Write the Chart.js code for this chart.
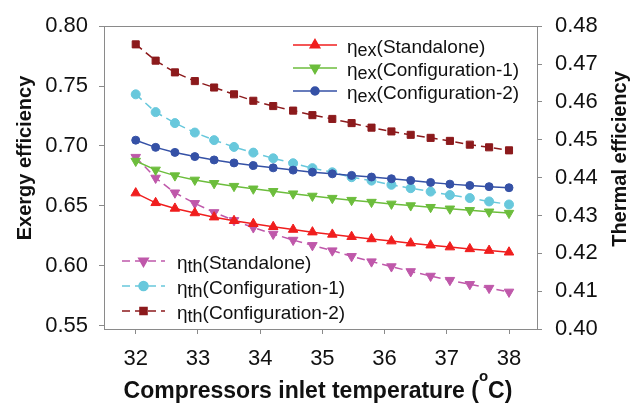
<!DOCTYPE html>
<html>
<head>
<meta charset="utf-8">
<script src="https://cdn.jsdelivr.net/npm/chart.js"></script>
<style>
  html, body { margin: 0; padding: 0; background: #fff; }
  canvas { display: block; }
</style>
</head>
<body>
<canvas id="efficiency-chart" width="641" height="403"></canvas>
<script>
// compressor inlet temperature, degC
const temps = [32.00, 32.32, 32.63, 32.95, 33.26, 33.58, 33.89, 34.21, 34.53, 34.84,
               35.16, 35.47, 35.79, 36.11, 36.42, 36.74, 37.05, 37.37, 37.68, 38.00]

// exergy efficiency (left axis)
const exStandalone = [0.6606, 0.6525, 0.6478, 0.6440, 0.6405, 0.6375, 0.6350, 0.6325, 0.6302, 0.6280,
                      0.6261, 0.6242, 0.6223, 0.6205, 0.6188, 0.6171, 0.6155, 0.6140, 0.6126, 0.6112]
const exConfig1 = [0.6874, 0.6800, 0.6752, 0.6716, 0.6688, 0.6664, 0.6642, 0.6621, 0.6601, 0.6582,
                   0.6564, 0.6547, 0.6531, 0.6516, 0.6502, 0.6488, 0.6475, 0.6462, 0.6450, 0.6439]
const exConfig2 = [0.7048, 0.6988, 0.6946, 0.6911, 0.6883, 0.6858, 0.6836, 0.6817, 0.6798, 0.6781,
                   0.6767, 0.6754, 0.6740, 0.6726, 0.6712, 0.6695, 0.6681, 0.6670, 0.6660, 0.6651]

// thermal efficiency (right axis)
const thStandalone = [0.4454, 0.4399, 0.4360, 0.4332, 0.4308, 0.4287, 0.4268, 0.4251, 0.4235, 0.4221,
                      0.4207, 0.4192, 0.4178, 0.4165, 0.4152, 0.4140, 0.4129, 0.4118, 0.4108, 0.4098]
const thConfig1 = [0.4620, 0.4573, 0.4544, 0.4519, 0.4499, 0.4481, 0.4466, 0.4451, 0.4438, 0.4425,
                   0.4414, 0.4401, 0.4392, 0.4381, 0.4372, 0.4363, 0.4354, 0.4346, 0.4337, 0.4329]
const thConfig2 = [0.4752, 0.4709, 0.4678, 0.4655, 0.4638, 0.4620, 0.4603, 0.4589, 0.4577, 0.4565,
                   0.4555, 0.4544, 0.4532, 0.4522, 0.4513, 0.4505, 0.4497, 0.4487, 0.4480, 0.4472]

const xTicks = [32, 33, 34, 35, 36, 37, 38]
const leftTicks = [0.55, 0.60, 0.65, 0.70, 0.75, 0.80]
const rightTicks = [0.40, 0.41, 0.42, 0.43, 0.44, 0.45, 0.46, 0.47, 0.48]

const FONT = "'Liberation Sans', Arial, sans-serif"
const frameColor = '#8a8a8a'

const toPoints = vals => vals.map((v, i) => ({ x: temps[i], y: v }))

function series(sub, tail, vals, color, style, opts) {
  return Object.assign({
    sub, tail,
    label: 'η' + sub + tail,
    data: toPoints(vals),
    borderColor: color,
    backgroundColor: color,
    pointBackgroundColor: color,
    pointBorderColor: color,
    borderWidth: 1.5,
    pointStyle: style,
    pointRadius: 4,
    pointBorderWidth: 1,
    tension: 0
  }, opts)
}

const datasets = [
  series('ex', '(Standalone)', exStandalone, '#f01e1e', 'triangle', { yAxisID: 'yEx', pointRadius: 5.5 }),
  series('ex', '(Configuration-1)', exConfig1, '#6cbd3c', 'triangle', { yAxisID: 'yEx', pointRadius: 5.5, pointRotation: 180 }),
  series('ex', '(Configuration-2)', exConfig2, '#3551a6', 'circle', { yAxisID: 'yEx' }),
  series('th', '(Standalone)', thStandalone, '#bf58aa', 'triangle', { yAxisID: 'yTh', pointRadius: 5.5, pointRotation: 180, borderDash: [8, 5] }),
  series('th', '(Configuration-1)', thConfig1, '#68c8dc', 'circle', { yAxisID: 'yTh', pointRadius: 4.5, borderDash: [8, 5] }),
  series('th', '(Configuration-2)', thConfig2, '#8c1a1c', 'rect', { yAxisID: 'yTh', pointRadius: 5, borderDash: [8, 5] })
]

// legend blocks: dataset indexes, sample line span, first row y, row step, text x
const keyBlocks = [
  { items: [0, 1, 2], x0: 293, x1: 337, y: 45, step: 23, textX: 347 },
  { items: [3, 4, 5], x0: 122, x1: 165, y: 261, step: 25, textX: 177 }
]

function drawKey(ctx, ds, block, y) {
  ctx.save()
  ctx.strokeStyle = ds.borderColor
  ctx.lineWidth = ds.borderWidth
  ctx.setLineDash(ds.borderDash || [])
  ctx.beginPath()
  ctx.moveTo(block.x0, y)
  ctx.lineTo(block.x1, y)
  ctx.stroke()
  ctx.setLineDash([])
  ctx.fillStyle = ds.pointBackgroundColor
  ctx.strokeStyle = ds.pointBorderColor
  Chart.helpers.drawPoint(ctx, {
    pointStyle: ds.pointStyle,
    rotation: ds.pointRotation || 0,
    radius: ds.pointRadius,
    borderWidth: 1
  }, (block.x0 + block.x1) / 2, y)

  // η with subscript, then the case name
  const base = y + 8
  let x = block.textX
  ctx.fillStyle = '#111'
  ctx.textBaseline = 'alphabetic'
  ctx.textAlign = 'left'
  ctx.font = `19px ${FONT}`
  ctx.fillText('η', x, base)
  x += ctx.measureText('η').width
  ctx.font = `18px ${FONT}`
  ctx.fillText(ds.sub, x, base + 3)
  x += ctx.measureText(ds.sub).width
  ctx.font = `19px ${FONT}`
  ctx.fillText(ds.tail, x, base)
  ctx.restore()
}

const decorations = {
  id: 'decorations',
  beforeDatasetsDraw(chart) {
    const { ctx, chartArea: a } = chart
    ctx.save()
    ctx.strokeStyle = frameColor
    ctx.lineWidth = 1
    ctx.strokeRect(Math.round(a.left) + 0.5, Math.round(a.top) + 0.5,
      Math.round(a.right - a.left), Math.round(a.bottom - a.top))
    ctx.restore()
  },
  afterDraw(chart) {
    const { ctx } = chart
    const sets = chart.data.datasets
    keyBlocks.forEach(block => {
      block.items.forEach((idx, row) => drawKey(ctx, sets[idx], block, block.y + row * block.step))
    })

    ctx.save()
    ctx.fillStyle = '#111'
    ctx.textAlign = 'center'
    ctx.textBaseline = 'middle'
    ctx.font = `bold 20px ${FONT}`
    ctx.save()
    ctx.translate(25, 158)
    ctx.rotate(-Math.PI / 2)
    ctx.fillText('Exergy efficiency', 0, 0)
    ctx.restore()
    ctx.save()
    ctx.translate(620, 159)
    ctx.rotate(-Math.PI / 2)
    ctx.fillText('Thermal efficiency', 0, 0)
    ctx.restore()

    // x title with superscript o
    const head = 'Compressors inlet temperature ('
    const sup = 'o'
    const end = 'C)'
    const big = `bold 23px ${FONT}`
    const small = `bold 15px ${FONT}`
    ctx.font = big
    const wHead = ctx.measureText(head).width
    const wEnd = ctx.measureText(end).width
    ctx.font = small
    const wSup = ctx.measureText(sup).width
    let x = 318 - (wHead + wSup + wEnd) / 2
    const base = 398
    ctx.textAlign = 'left'
    ctx.textBaseline = 'alphabetic'
    ctx.font = big
    ctx.fillText(head, x, base)
    x += wHead
    ctx.font = small
    ctx.fillText(sup, x, base - 17)
    x += wSup
    ctx.font = big
    ctx.fillText(end, x, base)
    ctx.restore()
  }
}

const tickFont = { family: FONT, size: 22 }

new Chart(document.getElementById('efficiency-chart'), {
  type: 'line',
  data: { datasets },
  options: {
    responsive: false,
    animation: false,
    devicePixelRatio: 1,
    layout: { padding: { top: 22, left: 0, right: 0, bottom: 0 } },
    plugins: { legend: { display: false }, tooltip: { enabled: false } },
    scales: {
      x: {
        type: 'linear',
        min: 31.49,
        max: 38.45,
        afterBuildTicks: scale => { scale.ticks = xTicks.map(v => ({ value: v })) },
        afterFit: scale => { scale.height = 74 },
        grid: { drawOnChartArea: false, tickLength: 5, color: frameColor },
        border: { display: false },
        ticks: { font: tickFont, color: '#111', padding: 12, autoSkip: false, maxRotation: 0, callback: v => String(v) }
      },
      yEx: {
        type: 'linear',
        position: 'left',
        min: 0.5471,
        max: 0.80,
        afterBuildTicks: scale => { scale.ticks = leftTicks.map(v => ({ value: v })) },
        afterFit: scale => { scale.width = 104 },
        grid: { drawOnChartArea: false, tickLength: 5, color: frameColor },
        border: { display: false },
        ticks: { font: tickFont, color: '#111', padding: 11, callback: v => v.toFixed(2) }
      },
      yTh: {
        type: 'linear',
        position: 'right',
        min: 0.40,
        max: 0.48,
        afterBuildTicks: scale => { scale.ticks = rightTicks.map(v => ({ value: v })) },
        afterFit: scale => { scale.width = 104 },
        grid: { drawOnChartArea: false, tickLength: 5, color: frameColor },
        border: { display: false },
        ticks: { font: tickFont, color: '#111', padding: 13, callback: v => v.toFixed(2) }
      }
    }
  },
  plugins: [decorations]
})
</script>
</body>
</html>
